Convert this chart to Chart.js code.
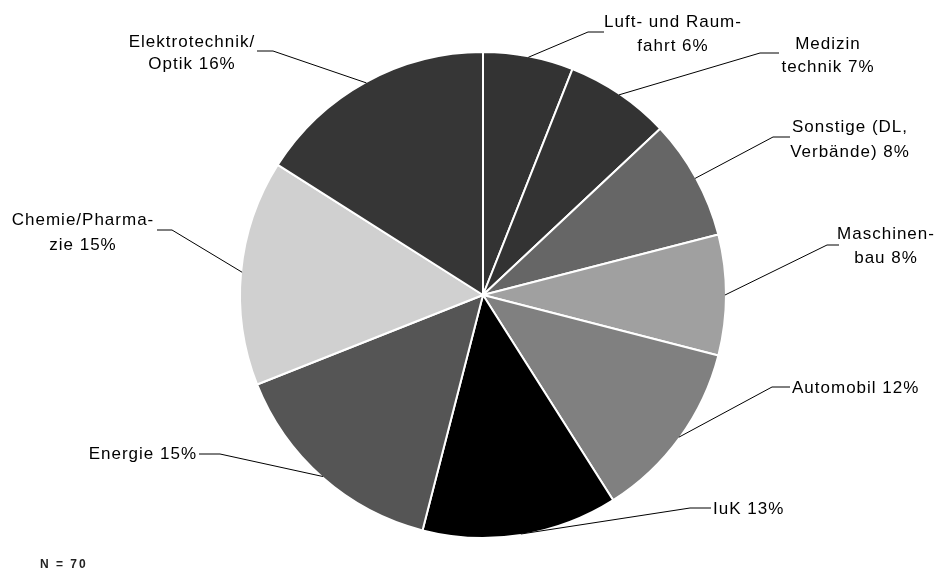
<!DOCTYPE html>
<html>
<head>
<meta charset="utf-8">
<script src="https://cdn.jsdelivr.net/npm/chart.js"></script>
<style>
  html, body { margin: 0; padding: 0; background: #fff; }
  #wrap { position: relative; width: 938px; height: 572px; }
</style>
</head>
<body>
<div id="wrap"><canvas id="pieChart"></canvas></div>
<script>
// data, clockwise from 12 o'clock
const branchen = [
  ["Luft- und Raum-", "fahrt"],
  ["Medizin", "technik"],
  ["Sonstige (DL,", "Verbände)"],
  ["Maschinen-", "bau"],
  ["Automobil"],
  ["IuK"],
  ["Energie"],
  ["Chemie/Pharma-", "zie"],
  ["Elektrotechnik/", "Optik"]
];
const anteile = [6, 7, 8, 8, 12, 13, 15, 15, 16];
const stichprobe = "N = 70";

const fills = ["#333333", "#333333", "#666666", "#a0a0a0", "#808080", "#000000", "#555555", "#d0d0d0", "#363636"];

// label layout: elbow of leader, end of horizontal piece, text anchor, align, line y's
const labelLayout = [
  { ex: 588, ey: 32,  hx: 604, tx: 673, align: "center", ys: [22, 46] },
  { ex: 760, ey: 53,  hx: 779, tx: 828, align: "center", ys: [44, 67] },
  { ex: 773, ey: 137, hx: 790, tx: 850, align: "center", ys: [127, 152] },
  { ex: 827, ey: 245, hx: 839, tx: 886, align: "center", ys: [234, 258] },
  { ex: 772, ey: 387, hx: 790, tx: 792, align: "left",   ys: [388] },
  { ex: 690, ey: 508, hx: 711, tx: 713, align: "left",   ys: [509] },
  { ex: 220, ey: 454, hx: 199, tx: 197, align: "right",  ys: [454] },
  { ex: 172, ey: 230, hx: 157, tx: 83,  align: "center", ys: [220, 245] },
  { ex: 273, ey: 51,  hx: 257, tx: 192, align: "center", ys: [42, 64] }
];

const leaderLabels = {
  id: "leaderLabels",
  afterDatasetsDraw(chart) {
    const ctx = chart.ctx;
    const arcs = chart.getDatasetMeta(0).data;
    ctx.save();
    ctx.strokeStyle = "#000";
    ctx.lineWidth = 1;
    ctx.fillStyle = "#000";
    ctx.font = "17px 'Liberation Sans', Arial, sans-serif";
    ctx.letterSpacing = "1px";
    ctx.textBaseline = "middle";
    arcs.forEach((arc, i) => {
      const p = arc.getProps(["x", "y", "startAngle", "endAngle", "outerRadius"], true);
      const mid = (p.startAngle + p.endAngle) / 2;
      const ax = p.x + Math.cos(mid) * (p.outerRadius - 1);
      const ay = p.y + Math.sin(mid) * (p.outerRadius - 1);
      const L = labelLayout[i];
      ctx.beginPath();
      ctx.moveTo(ax, ay);
      ctx.lineTo(L.ex, L.ey);
      ctx.lineTo(L.hx, L.ey);
      ctx.stroke();

      const lines = branchen[i].slice();
      lines[lines.length - 1] += " " + anteile[i] + "%";
      ctx.textAlign = L.align;
      lines.forEach((t, k) => ctx.fillText(t, L.tx, L.ys[k]));
    });

    ctx.font = "bold 12px 'Liberation Sans', Arial, sans-serif";
    ctx.letterSpacing = "2px";
    ctx.textAlign = "left";
    ctx.fillStyle = "#222";
    ctx.fillText(stichprobe, 40, 565);
    ctx.restore();
  }
};

new Chart(document.getElementById("pieChart"), {
  type: "pie",
  data: {
    labels: branchen.map(b => b.join(" ")),
    datasets: [{
      data: anteile,
      backgroundColor: fills,
      borderColor: "#ffffff",
      borderWidth: 2
    }]
  },
  options: {
    responsive: true,
    maintainAspectRatio: false,
    animation: false,
    layout: { padding: { top: 51, bottom: 33, left: 28, right: 0 } },
    plugins: {
      legend: { display: false },
      tooltip: { enabled: false }
    }
  },
  plugins: [leaderLabels]
});
</script>
</body>
</html>
